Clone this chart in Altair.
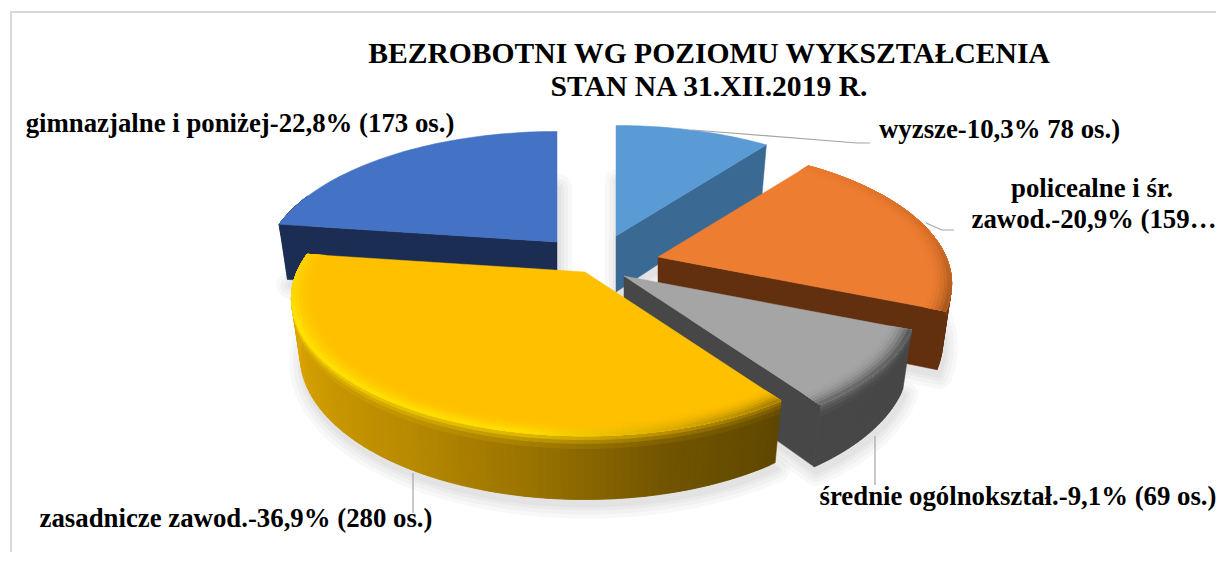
import math
import altair as alt

# ---- data ----
categories = ["wyzsze", "policealne i śr. zawod.", "średnie ogólnokształ.", "zasadnicze zawod.", "gimnazjalne i poniżej"]
shares = [10.3, 20.9, 9.1, 36.9, 22.8]

title_lines = ["BEZROBOTNI WG POZIOMU WYKSZTAŁCENIA", "STAN NA 31.XII.2019 R."]
label_texts = [
    "wyzsze-10,3% 78 os.)",
    "policealne i śr.",
    "zawod.-20,9% (159…",
    "średnie ogólnokształ.-9,1% (69 os.)",
    "zasadnicze zawod.-36,9% (280 os.)",
    "gimnazjalne i poniżej-22,8% (173 os.)",
]

# ---- look and layout ----
OFF = 8
A, B, K, DEPTH = 288.0, 132.0, 0.194, 56.0
apexes = [(616, 236), (658, 257), (624, 276), (585, 272), (557, 242)]
tops = ["#5b9bd5", "#ed7d31", "#a5a5a5", "#ffc000", "#4472c4"]
faces = ["#3a6a94", "#63300f", "#474747", None, "#1b2d52"]
face_side = ["end", "end", "end", None, "start"]
rim_stops = [
    [(0, "#3a6a94"), (37, "#3a6a94")],
    [(37, "#63300f"), (112, "#63300f")],
    [(112, "#474747"), (145, "#474747")],
    [(145, "#5f4700"), (166, "#705400"), (189, "#9a7300"), (211, "#b88a00"), (250, "#d8a200"), (279, "#e5ad00")],
    [(278, "#1b2d52"), (360, "#1b2d52")],
]
edge_stops = [
    [(0, "#5b9bd5"), (37, "#5b9bd5")],
    [(37, "#e87a2f"), (80, "#d66e28"), (112, "#a55a1e")],
    [(112, "#5a5a5a"), (125, "#666666"), (145, "#6e6e6e")],
    [(145, "#a88000"), (165, "#dbab00"), (190, "#ffdc00"), (250, "#ffe000"), (279, "#ffcc00")],
    [(278, "#4472c4"), (360, "#4472c4")],
]
# x, y, align per text line (page pixels)
label_pos = [(879, 138, "left"), (1092, 197, "center"), (1094, 228, "center"),
             (1018, 505, "center"), (236, 527, "center"), (240, 132, "center")]
leaders = [
    [(693, 130), (857, 143), (870, 143)],
    [(926, 223), (942, 230), (954, 230)],
    [(875, 436), (875, 485)],
    [(413, 473), (413, 513)],
]
border = [[(1224, 12), (11, 12), (11, 561)]]


def hex2rgb(c):
    return [int(c[i:i + 2], 16) for i in (1, 3, 5)]


def mix(c1, c2, f):
    a, b = hex2rgb(c1), hex2rgb(c2)
    return "#%02x%02x%02x" % tuple(round(x + (y - x) * f) for x, y in zip(a, b))


def stop_color(stops, deg):
    if deg <= stops[0][0]:
        return stops[0][1]
    for (d0, c0), (d1, c1) in zip(stops, stops[1:]):
        if deg <= d1:
            return mix(c0, c1, (deg - d0) / (d1 - d0))
    return stops[-1][1]


def project(apex, deg, r=1.0, h=0.0):
    t = math.radians(deg)
    u, v = r * math.sin(t), r * math.cos(t)
    s = 1 / (1 + K * v)
    x = A * u * s * (1 - 0.03 * h)
    y = -B * v * s + h * DEPTH * s ** 0.6
    return [round(apex[0] + x - OFF, 2), round(apex[1] + y - OFF, 2)]


def feature(points, fill):
    ring = list(points) + [points[0]]
    return {"type": "Feature", "properties": {"fill": fill},
            "geometry": {"type": "Polygon", "coordinates": [ring]}}


def line_feature(points):
    return {"type": "Feature", "properties": {},
            "geometry": {"type": "LineString",
                         "coordinates": [[x - OFF, y - OFF] for x, y in points]}}


def steps(a, b, n):
    return [a + (b - a) * i / n for i in range(n + 1)]


# slice angles follow from the shares
edges = [0.0]
for share in shares:
    edges.append(edges[-1] + share * 3.6)

shadow_feats, solid = [], []
for i in range(len(shares)):
    a0, a1 = edges[i], edges[i + 1]
    apex = apexes[i]
    arc = steps(a0, a1, 48)
    # soft shadow under each slice
    base = [project((apex[0] + 2, apex[1] + 6), 0, 0, 1)] + [project((apex[0] + 2, apex[1] + 6), d, 1, 1) for d in arc]
    shadow_feats.append(feature(base, "#000000"))

draw_order = [0, 4, 1, 2, 3]
BANDS = 6
for i in draw_order:
    a0, a1 = edges[i], edges[i + 1]
    apex = apexes[i]
    n = max(12, int((a1 - a0) * 0.8))
    arc = steps(a0, a1, n)
    # each strip runs on under the next one, so no seam shows the background
    pairs = [(arc[j], arc[min(j + 2, n)]) for j in range(n)]

    def span(d0, d1, r0, r1, h0, h1):
        sub = steps(d0, d1, 2)
        outer = [project(apex, d, r1, h0) for d in sub]
        inner = [project(apex, d, r0, h1) for d in reversed(sub)]
        return outer + inner

    # outer wall: full height first, then shorter blended layers on top of it
    for hmax, f in [(1, 0.0), (0.2, 0.12), (0.12, 0.35), (0.06, 0.65)]:
        for d0, d1 in pairs:
            mid = d0 + (a1 - a0) / n / 2
            if math.cos(math.radians(mid)) > 0.35:
                continue
            col = mix(stop_color(rim_stops[i], mid), stop_color(edge_stops[i], mid), f)
            solid.append(feature(span(d0, d1, 1, 1, 0, hmax), col))
    # flat radial wall
    if faces[i]:
        d = a1 if face_side[i] == "end" else a0
        solid.append(feature([project(apex, 0, 0, 0), project(apex, d, 1, 0),
                              project(apex, d, 1, 1), project(apex, 0, 0, 1)], faces[i]))
    # top surface
    solid.append(feature([project(apex, 0, 0)] + [project(apex, d, 1) for d in steps(a0, a1, 48)], tops[i]))
    # bevel along the rim, outward layers painted over inner ones
    if tops[i] not in ("#5b9bd5", "#4472c4"):
        radii = steps(0.93, 1.0, BANDS)
        for b in range(BANDS):
            f = ((b + 1) / BANDS) ** 2
            for d0, d1 in pairs:
                mid = d0 + (a1 - a0) / n / 2
                col = mix(tops[i], stop_color(edge_stops[i], mid), f)
                solid.append(feature(span(d0, d1, radii[b], 1.0, 0, 0), col))

PROJ = {"type": "identity", "scale": 1, "translate": [0, 0]}

shadow_layers = [
    alt.Chart(alt.Data(values=shadow_feats)).mark_geoshape(
        fill="#000000", stroke="#000000", strokeWidth=w, opacity=0.022, strokeJoin="round"
    ).project(**PROJ)
    for w in (26, 18, 10, 4)
]

solid_layer = alt.Chart(alt.Data(values=solid)).mark_geoshape(strokeWidth=0.5).encode(
    fill=alt.Fill("properties.fill:N", scale=None, legend=None),
    stroke=alt.Stroke("properties.fill:N", scale=None, legend=None),
).project(**PROJ)

leader_layer = alt.Chart(alt.Data(values=[line_feature(p) for p in leaders])).mark_geoshape(
    filled=False, stroke="#a6a6a6", strokeWidth=1.2
).project(**PROJ)

border_layer = alt.Chart(alt.Data(values=[line_feature(p) for p in border])).mark_geoshape(
    filled=False, stroke="#d9d9d9", strokeWidth=2
).project(**PROJ)


def text_layer(text, x, y, align, size):
    return alt.Chart(alt.Data(values=[{"t": text}])).mark_text(
        font="Liberation Serif", fontWeight="bold", fontSize=size, color="#000000",
        align=align, baseline="alphabetic"
    ).encode(text="t:N", x=alt.value(x - OFF), y=alt.value(y - OFF))


texts = [text_layer(title_lines[0], 709, 63, "center", 29.6),
         text_layer(title_lines[1], 709, 96, "center", 29.6)]
for t, (x, y, al) in zip(label_texts, label_pos):
    texts.append(text_layer(t, x, y, al, 26.8))

chart = alt.layer(border_layer, *shadow_layers, solid_layer, leader_layer, *texts).properties(
    width=1208, height=544, padding=0,
    autosize=alt.AutoSizeParams(type="none"),
    background="#ffffff",
).configure_view(stroke=None)

chart.save("out.html", embed_options={"renderer": "svg", "actions": False})
